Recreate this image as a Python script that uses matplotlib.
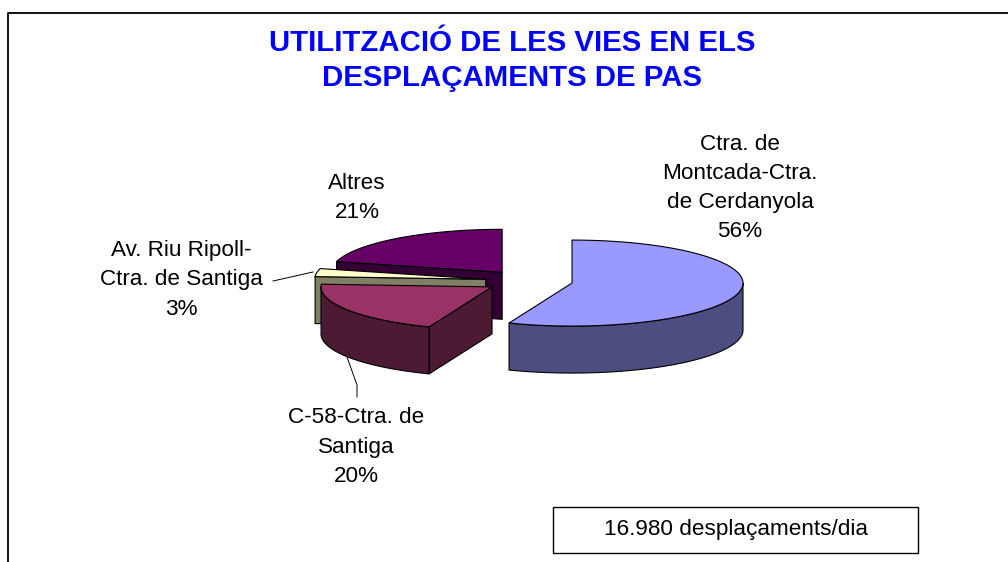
import numpy as np
import matplotlib
matplotlib.use("Agg")
import matplotlib.pyplot as plt
from matplotlib.patches import Polygon, Rectangle

plt.rcParams["font.family"] = ["Liberation Sans", "DejaVu Sans"]

# dades
labels = ["Ctra. de\nMontcada-Ctra.\nde Cerdanyola", "C-58-Ctra. de\nSantiga",
          "Av. Riu Ripoll-\nCtra. de Santiga", "Altres"]
values = [56, 20, 3, 21]
top_colors = ["#9999FF", "#993366", "#FFFFCC", "#660066"]
side_colors = ["#4D4D80", "#4D1A33", "#808066", "#330033"]
title = "UTILITZACIÓ DE LES VIES EN ELS\nDESPLAÇAMENTS DE PAS"
total_text = "16.980 desplaçaments/dia"

# geometria del pastís 3D (pixels)
cx, cy = 529, 281
rx, ry = 171, 43
depth = 47
explode = 0.256

label_xy = [(740, 188), (356, 447), (181, 280), (357, 198)]

fig = plt.figure(figsize=(10.08, 5.62), dpi=100)
ax = fig.add_axes([0, 0, 1, 1])
ax.set_xlim(0, 1008)
ax.set_ylim(562, 0)
ax.axis("off")

# marc
ax.plot([8, 8, 1012], [570, 13, 13], color="black", lw=1.3, solid_capstyle="butt")


def pt(x0, y0, a, dz=0):
    return (x0 + rx * np.cos(a), y0 - ry * np.sin(a) + dz)


vals = np.array(values, dtype=float)
cum = np.concatenate([[0], np.cumsum(vals) / vals.sum()])
slices = []
for i in range(len(vals)):
    start = np.deg2rad(90 - cum[i] * 360)
    end = np.deg2rad(90 - cum[i + 1] * 360)
    a1, a2 = end, start  # a1 < a2
    mid = (a1 + a2) / 2
    x0 = cx + explode * rx * np.cos(mid)
    y0 = cy - explode * ry * np.sin(mid)
    slices.append((i, a1, a2, x0, y0))

ec = dict(edgecolor="black", linewidth=0.8, joinstyle="round")

for i, a1, a2, x0, y0 in sorted(slices, key=lambda s: s[4]):
    # cares radials visibles
    for a, nrm in [(a1, a1 - np.pi / 2), (a2, a2 + np.pi / 2)]:
        if np.sin(nrm) < -1e-6:
            p = pt(x0, y0, a)
            poly = [(x0, y0), p, (p[0], p[1] + depth), (x0, y0 + depth)]
            ax.add_patch(Polygon(poly, closed=True, facecolor=side_colors[i], **ec))
    # costat exterior (part frontal, sin < 0)
    k = np.floor(a1 / (2 * np.pi))
    for base in [k - 1, k, k + 1]:
        s = max(a1, base * 2 * np.pi - np.pi)
        e = min(a2, base * 2 * np.pi)
        if e > s:
            aa = np.linspace(s, e, 80)
            top = [pt(x0, y0, a) for a in aa]
            bot = [pt(x0, y0, a, depth) for a in aa[::-1]]
            ax.add_patch(Polygon(top + bot, closed=True, facecolor=side_colors[i], **ec))
    # cara superior
    aa = np.linspace(a1, a2, 120)
    poly = [(x0, y0)] + [pt(x0, y0, a) for a in aa]
    ax.add_patch(Polygon(poly, closed=True, facecolor=top_colors[i], **ec))

# etiquetes
for lab, v, (lx, ly) in zip(labels, values, label_xy):
    ax.text(lx, ly, f"{lab}\n{v}%", ha="center", va="center", fontsize=16.2,
            linespacing=1.52, color="black")

# línies guia
ax.plot([273, 313], [281, 272], color="black", lw=0.7)
ax.plot([357, 357, 347], [397, 385, 357], color="black", lw=0.7)

# títol
ax.text(512, 60.5, title, ha="center", va="center", fontsize=21.2, fontweight="bold",
        color="#0000FF", linespacing=1.35)

# caixa total
ax.add_patch(Rectangle((553, 507), 365, 46, facecolor="white", edgecolor="black", lw=1.0))
ax.text(735.5, 530, total_text, ha="center", va="center", fontsize=16.2, color="black")

fig.savefig("out.png", dpi=100)
